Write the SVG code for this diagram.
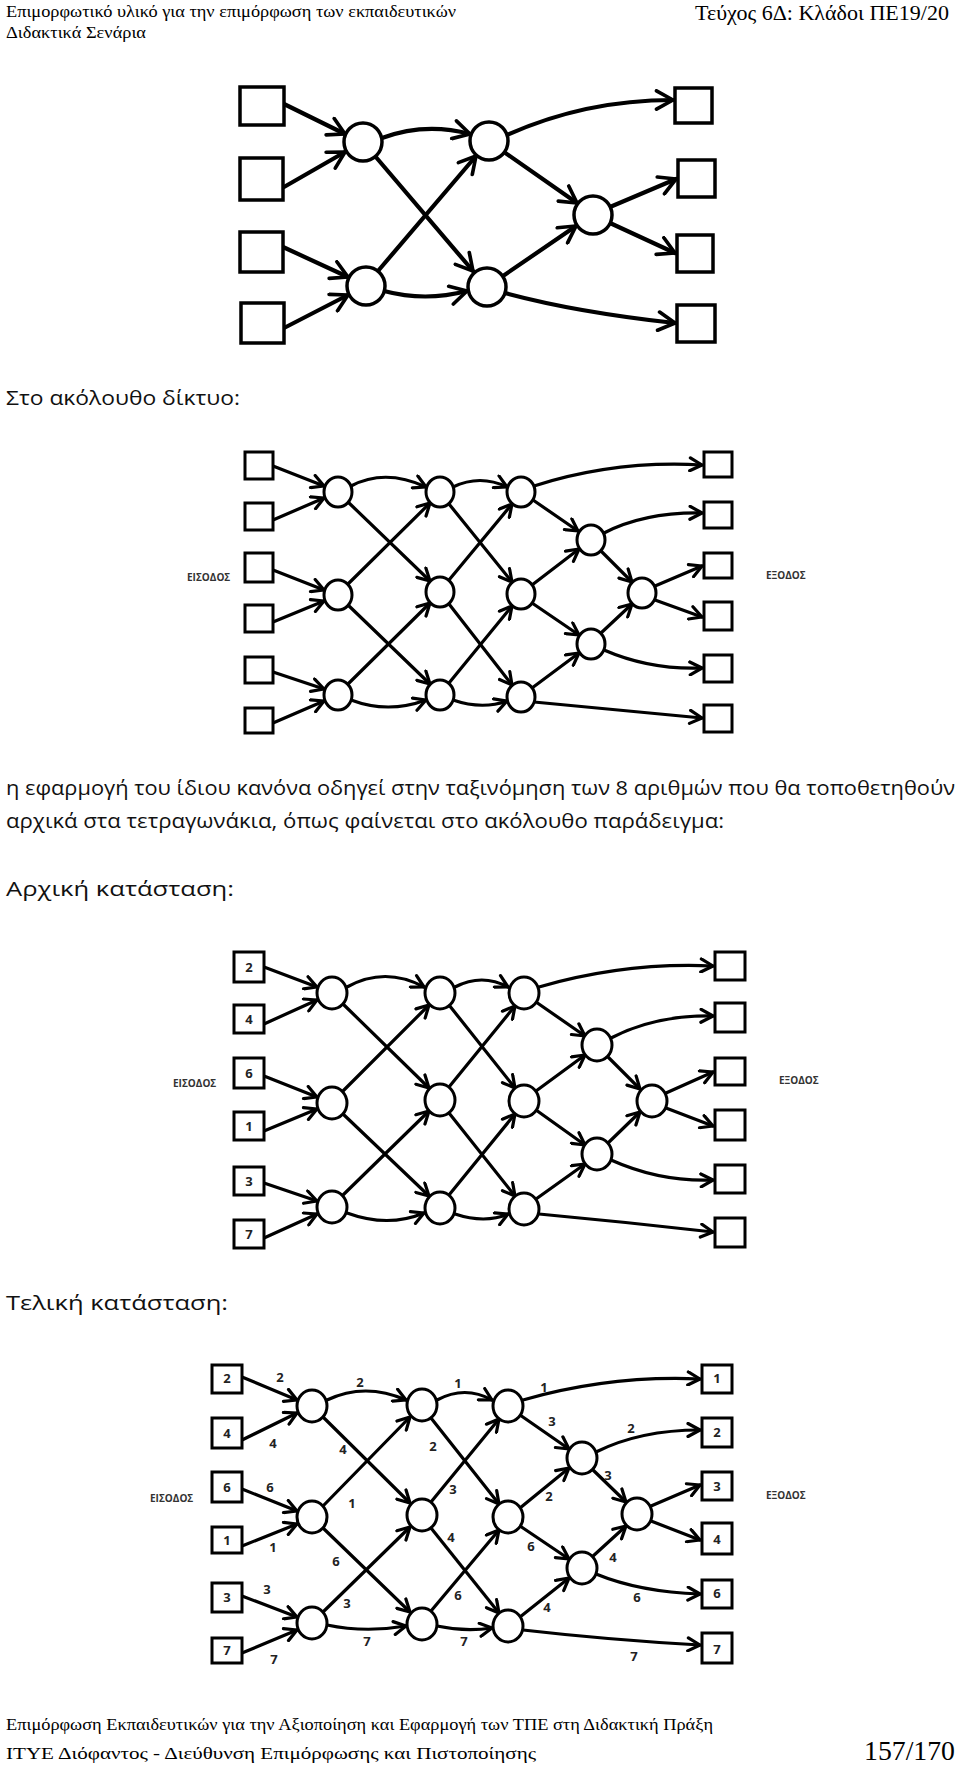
<svg xmlns="http://www.w3.org/2000/svg" width="960" height="1766" viewBox="0 0 960 1766">
<defs>
<style>
.hdr{font-family:"Liberation Serif","Times New Roman",serif;fill:#000}
.body{font-family:"Open Sans","Liberation Sans",sans-serif;font-size:20px;fill:#111}
.lbl{font-family:"Open Sans","Liberation Sans",sans-serif;font-size:10px;font-weight:bold;fill:#333}
.num{font-family:"Open Sans","Liberation Sans",sans-serif;font-size:13px;font-weight:bold;fill:#222;text-anchor:middle}
.sq{fill:#fff;stroke:#000;stroke-width:3}
.sq1{fill:#fff;stroke:#000;stroke-width:3.5}
.nd{fill:#fff;stroke:#000;stroke-width:3}
.nd1{fill:#fff;stroke:#000;stroke-width:3.5}
.e{fill:none;stroke:#000;stroke-width:3.2;stroke-linecap:round;marker-end:url(#ah)}
.e1{fill:none;stroke:#000;stroke-width:4.2;stroke-linecap:round;marker-end:url(#ah1)}
</style>
<marker id="ah" viewBox="0 0 16 16" markerWidth="16" markerHeight="16" refX="14" refY="8" orient="auto" markerUnits="userSpaceOnUse">
<path d="M2,1.5 L14,8 L2,14.5" fill="none" stroke="#000" stroke-width="3.2" stroke-linecap="round" stroke-linejoin="round"/>
</marker>
<marker id="ah1" viewBox="0 0 24 24" markerWidth="22" markerHeight="22" refX="21" refY="12" orient="auto" markerUnits="userSpaceOnUse">
<path d="M3,2 L21,12 L3,22" fill="none" stroke="#000" stroke-width="4" stroke-linecap="round" stroke-linejoin="round"/>
</marker>
</defs>
<rect x="0" y="0" width="960" height="1766" fill="#fff"/>

<!-- header -->
<text class="hdr" x="6" y="17" font-size="17" textLength="450" lengthAdjust="spacingAndGlyphs">Επιμορφωτικό υλικό για την επιμόρφωση των εκπαιδευτικών</text>
<text class="hdr" x="6" y="38" font-size="17" textLength="140" lengthAdjust="spacingAndGlyphs">Διδακτικά Σενάρια</text>
<text class="hdr" x="695" y="20" font-size="21" textLength="254" lengthAdjust="spacingAndGlyphs">Τεύχος 6Δ: Κλάδοι ΠΕ19/20</text>

<!-- FIGURE 1 -->
<g id="fig1-edges">
<path class="e1" d="M284,104 L345,134"/>
<path class="e1" d="M284,187 L345,152"/>
<path class="e1" d="M283,247 L348,277"/>
<path class="e1" d="M284,328 L348,295"/>
<path class="e1" d="M382,138 Q425,122 470,134"/>
<path class="e1" d="M375,156 L473,271"/>
<path class="e1" d="M378,271 L476,156"/>
<path class="e1" d="M384,291 Q425,302 467,291"/>
<path class="e1" d="M507,135 Q585,100 673,100"/>
<path class="e1" d="M504,152 L577,203"/>
<path class="e1" d="M503,276 L576,226"/>
<path class="e1" d="M505,293 Q575,312 675,323"/>
<path class="e1" d="M610,207 L676,179"/>
<path class="e1" d="M610,223 L675,253"/>
</g>
<g id="f1-in1"><rect class="sq1" x="240" y="87" width="44" height="38"/></g>
<g id="f1-in2"><rect class="sq1" x="240" y="158" width="43" height="42"/></g>
<g id="f1-in3"><rect class="sq1" x="240" y="232" width="43" height="40"/></g>
<g id="f1-in4"><rect class="sq1" x="241" y="303" width="43" height="40"/></g>
<g id="f1-n1"><circle class="nd1" cx="363" cy="142" r="19"/></g>
<g id="f1-n2"><circle class="nd1" cx="366" cy="286" r="19"/></g>
<g id="f1-n3"><circle class="nd1" cx="489" cy="141" r="19"/></g>
<g id="f1-n4"><circle class="nd1" cx="487" cy="287" r="19"/></g>
<g id="f1-n5"><circle class="nd1" cx="593" cy="215" r="19"/></g>
<g id="f1-out1"><rect class="sq1" x="675" y="88" width="37" height="35"/></g>
<g id="f1-out2"><rect class="sq1" x="678" y="160" width="37" height="37"/></g>
<g id="f1-out3"><rect class="sq1" x="677" y="235" width="36" height="37"/></g>
<g id="f1-out4"><rect class="sq1" x="677" y="305" width="38" height="37"/></g>

<text class="body" x="6" y="405" textLength="234" lengthAdjust="spacingAndGlyphs">Στο ακόλουθο δίκτυο:</text>

<!-- FIGURE 2 -->
<g id="fig2-edges">
<path class="e" d="M273,466 L324,486"/>
<path class="e" d="M273,520 L324,498"/>
<path class="e" d="M273,570 L324,590"/>
<path class="e" d="M273,622 L324,601"/>
<path class="e" d="M273,672 L324,689"/>
<path class="e" d="M273,723 L324,701"/>
<path class="e" d="M351,486 Q385,468 426,487"/>
<path class="e" d="M348,502 L430,581"/>
<path class="e" d="M348,584 L430,503"/>
<path class="e" d="M348,605 L430,684"/>
<path class="e" d="M348,684 L430,603"/>
<path class="e" d="M351,700 Q388,714 426,700"/>
<path class="e" d="M453,487 Q480,474 507,487"/>
<path class="e" d="M449,504 L512,582"/>
<path class="e" d="M449,580 L512,504"/>
<path class="e" d="M449,604 L512,685"/>
<path class="e" d="M449,683 L512,606"/>
<path class="e" d="M453,700 Q482,710 507,701"/>
<path class="e" d="M534,486 Q615,460 702,465"/>
<path class="e" d="M533,500 L578,531"/>
<path class="e" d="M532,585 L579,549"/>
<path class="e" d="M532,603 L579,635"/>
<path class="e" d="M532,688 L579,653"/>
<path class="e" d="M534,702 Q615,710 702,718"/>
<path class="e" d="M604,533 Q645,512 702,513"/>
<path class="e" d="M601,551 L632,582"/>
<path class="e" d="M601,633 L632,604"/>
<path class="e" d="M604,650 Q650,670 702,668"/>
<path class="e" d="M655,586 L702,566"/>
<path class="e" d="M655,600 L702,617"/>
</g>
<g id="f2-in1"><rect class="sq" x="245" y="452" width="28" height="27"/></g>
<g id="f2-in2"><rect class="sq" x="245" y="503" width="28" height="27"/></g>
<g id="f2-in3"><rect class="sq" x="245" y="553" width="28" height="29"/></g>
<g id="f2-in4"><rect class="sq" x="245" y="605" width="28" height="27"/></g>
<g id="f2-in5"><rect class="sq" x="245" y="657" width="28" height="26"/></g>
<g id="f2-in6"><rect class="sq" x="245" y="708" width="28" height="25"/></g>
<g id="f2-a1"><ellipse class="nd" cx="338" cy="492" rx="14" ry="15"/></g>
<g id="f2-a2"><ellipse class="nd" cx="338" cy="595" rx="14" ry="15"/></g>
<g id="f2-a3"><ellipse class="nd" cx="338" cy="695" rx="14" ry="15"/></g>
<g id="f2-b1"><ellipse class="nd" cx="440" cy="492" rx="14" ry="15"/></g>
<g id="f2-b2"><ellipse class="nd" cx="440" cy="592" rx="14" ry="15"/></g>
<g id="f2-b3"><ellipse class="nd" cx="440" cy="695" rx="14" ry="15"/></g>
<g id="f2-c1"><ellipse class="nd" cx="521" cy="492" rx="14" ry="15"/></g>
<g id="f2-c2"><ellipse class="nd" cx="521" cy="594" rx="14" ry="15"/></g>
<g id="f2-c3"><ellipse class="nd" cx="521" cy="697" rx="14" ry="15"/></g>
<g id="f2-d1"><ellipse class="nd" cx="591" cy="540" rx="14" ry="15"/></g>
<g id="f2-d2"><ellipse class="nd" cx="591" cy="644" rx="14" ry="15"/></g>
<g id="f2-e1"><ellipse class="nd" cx="642" cy="593" rx="14" ry="15"/></g>
<g id="f2-out1"><rect class="sq" x="704" y="452" width="28" height="25"/></g>
<g id="f2-out2"><rect class="sq" x="704" y="502" width="28" height="26"/></g>
<g id="f2-out3"><rect class="sq" x="704" y="553" width="28" height="25"/></g>
<g id="f2-out4"><rect class="sq" x="704" y="602" width="28" height="28"/></g>
<g id="f2-out5"><rect class="sq" x="704" y="655" width="28" height="27"/></g>
<g id="f2-out6"><rect class="sq" x="704" y="705" width="28" height="27"/></g>
<text class="lbl" x="187" y="581">ΕΙΣΟΔΟΣ</text>
<text class="lbl" x="766" y="579">ΕΞΟΔΟΣ</text>

<text class="body" x="6" y="795" textLength="949" lengthAdjust="spacingAndGlyphs">η εφαρμογή του ίδιου κανόνα οδηγεί στην ταξινόμηση των 8 αριθμών που θα τοποθετηθούν</text>
<text class="body" x="6" y="828" textLength="718" lengthAdjust="spacingAndGlyphs">αρχικά στα τετραγωνάκια, όπως φαίνεται στο ακόλουθο παράδειγμα:</text>
<text class="body" x="6" y="896" textLength="228" lengthAdjust="spacingAndGlyphs">Αρχική κατάσταση:</text>

<!-- FIGURE 3 -->
<g id="fig3-edges">
<path class="e" d="M264,967 L317,987"/>
<path class="e" d="M264,1024 L317,1000"/>
<path class="e" d="M264,1076 L317,1097"/>
<path class="e" d="M264,1131 L317,1109"/>
<path class="e" d="M264,1183 L317,1201"/>
<path class="e" d="M264,1238 L317,1214"/>
<path class="e" d="M347,987 Q385,966 424,987"/>
<path class="e" d="M343,1004 L429,1088"/>
<path class="e" d="M343,1091 L429,1005"/>
<path class="e" d="M343,1114 L429,1196"/>
<path class="e" d="M343,1195 L429,1111"/>
<path class="e" d="M347,1213 Q388,1228 424,1213"/>
<path class="e" d="M455,987 Q482,973 508,987"/>
<path class="e" d="M449,1005 L515,1088"/>
<path class="e" d="M449,1087 L515,1006"/>
<path class="e" d="M449,1113 L515,1196"/>
<path class="e" d="M449,1195 L515,1114"/>
<path class="e" d="M455,1214 Q485,1224 508,1214"/>
<path class="e" d="M539,987 Q625,962 713,966"/>
<path class="e" d="M536,1002 L585,1036"/>
<path class="e" d="M536,1091 L585,1055"/>
<path class="e" d="M536,1110 L585,1145"/>
<path class="e" d="M536,1199 L585,1164"/>
<path class="e" d="M539,1214 Q625,1222 713,1232"/>
<path class="e" d="M611,1038 Q655,1015 713,1016"/>
<path class="e" d="M607,1056 L640,1089"/>
<path class="e" d="M608,1143 L640,1112"/>
<path class="e" d="M611,1160 Q660,1182 713,1180"/>
<path class="e" d="M666,1093 L713,1072"/>
<path class="e" d="M666,1108 L713,1126"/>
</g>
<g id="f3-in1"><rect class="sq" x="234" y="952" width="30" height="30"/><text class="num" x="249" y="972">2</text></g>
<g id="f3-in2"><rect class="sq" x="234" y="1005" width="30" height="28"/><text class="num" x="249" y="1024">4</text></g>
<g id="f3-in3"><rect class="sq" x="234" y="1058" width="30" height="30"/><text class="num" x="249" y="1078">6</text></g>
<g id="f3-in4"><rect class="sq" x="234" y="1112" width="30" height="28"/><text class="num" x="249" y="1131">1</text></g>
<g id="f3-in5"><rect class="sq" x="234" y="1167" width="30" height="28"/><text class="num" x="249" y="1186">3</text></g>
<g id="f3-in6"><rect class="sq" x="234" y="1220" width="30" height="28"/><text class="num" x="249" y="1239">7</text></g>
<g id="f3-a1"><ellipse class="nd" cx="332" cy="993" rx="15" ry="16"/></g>
<g id="f3-a2"><ellipse class="nd" cx="332" cy="1103" rx="15" ry="16"/></g>
<g id="f3-a3"><ellipse class="nd" cx="332" cy="1207" rx="15" ry="16"/></g>
<g id="f3-b1"><ellipse class="nd" cx="440" cy="993" rx="15" ry="16"/></g>
<g id="f3-b2"><ellipse class="nd" cx="440" cy="1100" rx="15" ry="16"/></g>
<g id="f3-b3"><ellipse class="nd" cx="440" cy="1208" rx="15" ry="16"/></g>
<g id="f3-c1"><ellipse class="nd" cx="524" cy="993" rx="15" ry="16"/></g>
<g id="f3-c2"><ellipse class="nd" cx="524" cy="1101" rx="15" ry="16"/></g>
<g id="f3-c3"><ellipse class="nd" cx="524" cy="1209" rx="15" ry="16"/></g>
<g id="f3-d1"><ellipse class="nd" cx="597" cy="1045" rx="15" ry="16"/></g>
<g id="f3-d2"><ellipse class="nd" cx="597" cy="1154" rx="15" ry="16"/></g>
<g id="f3-e1"><ellipse class="nd" cx="652" cy="1101" rx="15" ry="16"/></g>
<g id="f3-out1"><rect class="sq" x="715" y="952" width="30" height="28"/></g>
<g id="f3-out2"><rect class="sq" x="715" y="1003" width="30" height="29"/></g>
<g id="f3-out3"><rect class="sq" x="715" y="1058" width="30" height="27"/></g>
<g id="f3-out4"><rect class="sq" x="715" y="1110" width="30" height="30"/></g>
<g id="f3-out5"><rect class="sq" x="715" y="1165" width="30" height="28"/></g>
<g id="f3-out6"><rect class="sq" x="715" y="1218" width="30" height="29"/></g>
<text class="lbl" x="173" y="1087">ΕΙΣΟΔΟΣ</text>
<text class="lbl" x="779" y="1084">ΕΞΟΔΟΣ</text>

<text class="body" x="6" y="1310" textLength="222" lengthAdjust="spacingAndGlyphs">Τελική κατάσταση:</text>

<!-- FIGURE 4 -->
<g id="fig4-edges">
<path class="e" d="M242,1377 L297,1400"/>
<path class="e" d="M242,1440 L297,1413"/>
<path class="e" d="M242,1489 L297,1511"/>
<path class="e" d="M242,1546 L297,1524"/>
<path class="e" d="M242,1596 L297,1617"/>
<path class="e" d="M242,1653 L297,1630"/>
<path class="e" d="M327,1400 Q365,1382 406,1400"/>
<path class="e" d="M323,1417 L410,1503"/>
<path class="e" d="M323,1506 L410,1417"/>
<path class="e" d="M323,1528 L410,1612"/>
<path class="e" d="M323,1612 L410,1527"/>
<path class="e" d="M327,1625 Q365,1633 406,1626"/>
<path class="e" d="M437,1400 Q465,1385 492,1400"/>
<path class="e" d="M431,1418 L499,1504"/>
<path class="e" d="M431,1502 L499,1419"/>
<path class="e" d="M431,1528 L499,1613"/>
<path class="e" d="M431,1611 L499,1530"/>
<path class="e" d="M437,1626 Q465,1632 492,1628"/>
<path class="e" d="M523,1400 Q610,1375 700,1379"/>
<path class="e" d="M520,1415 L569,1449"/>
<path class="e" d="M520,1508 L569,1468"/>
<path class="e" d="M520,1526 L569,1559"/>
<path class="e" d="M520,1617 L569,1578"/>
<path class="e" d="M523,1630 Q610,1640 700,1645"/>
<path class="e" d="M596,1452 Q640,1430 700,1430"/>
<path class="e" d="M592,1469 L626,1502"/>
<path class="e" d="M592,1557 L626,1526"/>
<path class="e" d="M596,1574 Q640,1592 700,1594"/>
<path class="e" d="M651,1506 L700,1485"/>
<path class="e" d="M651,1521 L700,1540"/>
</g>
<g id="fig4-edge-labels" class="num">
<text x="280" y="1382">2</text>
<text x="273" y="1448">4</text>
<text x="270" y="1492">6</text>
<text x="273" y="1552">1</text>
<text x="267" y="1594">3</text>
<text x="274" y="1664">7</text>
<text x="360" y="1387">2</text>
<text x="343" y="1454">4</text>
<text x="352" y="1508">1</text>
<text x="336" y="1566">6</text>
<text x="347" y="1608">3</text>
<text x="367" y="1646">7</text>
<text x="458" y="1388">1</text>
<text x="433" y="1451">2</text>
<text x="453" y="1494">3</text>
<text x="451" y="1542">4</text>
<text x="458" y="1600">6</text>
<text x="464" y="1646">7</text>
<text x="544" y="1392">1</text>
<text x="552" y="1426">3</text>
<text x="631" y="1433">2</text>
<text x="608" y="1480">3</text>
<text x="549" y="1501">2</text>
<text x="531" y="1551">6</text>
<text x="613" y="1562">4</text>
<text x="637" y="1602">6</text>
<text x="547" y="1612">4</text>
<text x="634" y="1661">7</text>
</g>
<g id="f4-in1"><rect class="sq" x="212" y="1365" width="30" height="28"/><text class="num" x="227" y="1383">2</text></g>
<g id="f4-in2"><rect class="sq" x="212" y="1418" width="30" height="30"/><text class="num" x="227" y="1438">4</text></g>
<g id="f4-in3"><rect class="sq" x="212" y="1472" width="30" height="30"/><text class="num" x="227" y="1492">6</text></g>
<g id="f4-in4"><rect class="sq" x="212" y="1527" width="30" height="26"/><text class="num" x="227" y="1545">1</text></g>
<g id="f4-in5"><rect class="sq" x="212" y="1583" width="30" height="29"/><text class="num" x="227" y="1602">3</text></g>
<g id="f4-in6"><rect class="sq" x="212" y="1638" width="30" height="25"/><text class="num" x="227" y="1655">7</text></g>
<g id="f4-a1"><ellipse class="nd" cx="312" cy="1406" rx="15" ry="16"/></g>
<g id="f4-a2"><ellipse class="nd" cx="312" cy="1517" rx="15" ry="16"/></g>
<g id="f4-a3"><ellipse class="nd" cx="312" cy="1623" rx="15" ry="16"/></g>
<g id="f4-b1"><ellipse class="nd" cx="422" cy="1405" rx="15" ry="16"/></g>
<g id="f4-b2"><ellipse class="nd" cx="422" cy="1515" rx="15" ry="16"/></g>
<g id="f4-b3"><ellipse class="nd" cx="422" cy="1624" rx="15" ry="16"/></g>
<g id="f4-c1"><ellipse class="nd" cx="508" cy="1406" rx="15" ry="16"/></g>
<g id="f4-c2"><ellipse class="nd" cx="508" cy="1517" rx="15" ry="16"/></g>
<g id="f4-c3"><ellipse class="nd" cx="508" cy="1626" rx="15" ry="16"/></g>
<g id="f4-d1"><ellipse class="nd" cx="582" cy="1458" rx="15" ry="16"/></g>
<g id="f4-d2"><ellipse class="nd" cx="582" cy="1568" rx="15" ry="16"/></g>
<g id="f4-e1"><ellipse class="nd" cx="637" cy="1514" rx="15" ry="16"/></g>
<g id="f4-out1"><rect class="sq" x="702" y="1365" width="30" height="28"/><text class="num" x="717" y="1383">1</text></g>
<g id="f4-out2"><rect class="sq" x="702" y="1418" width="30" height="29"/><text class="num" x="717" y="1437">2</text></g>
<g id="f4-out3"><rect class="sq" x="702" y="1472" width="30" height="28"/><text class="num" x="717" y="1491">3</text></g>
<g id="f4-out4"><rect class="sq" x="702" y="1523" width="30" height="31"/><text class="num" x="717" y="1544">4</text></g>
<g id="f4-out5"><rect class="sq" x="702" y="1580" width="30" height="28"/><text class="num" x="717" y="1598">6</text></g>
<g id="f4-out6"><rect class="sq" x="702" y="1633" width="30" height="30"/><text class="num" x="717" y="1654">7</text></g>
<text class="lbl" x="150" y="1502">ΕΙΣΟΔΟΣ</text>
<text class="lbl" x="766" y="1499">ΕΞΟΔΟΣ</text>

<!-- footer -->
<text class="hdr" x="6" y="1730" font-size="17" textLength="707" lengthAdjust="spacingAndGlyphs">Επιμόρφωση Εκπαιδευτικών για την Αξιοποίηση και Εφαρμογή των ΤΠΕ στη Διδακτική Πράξη</text>
<text class="hdr" x="6" y="1759" font-size="17" textLength="530" lengthAdjust="spacingAndGlyphs">ΙΤΥΕ Διόφαντος - Διεύθυνση Επιμόρφωσης και Πιστοποίησης</text>
<text class="hdr" x="864" y="1760" font-size="28" textLength="91" lengthAdjust="spacingAndGlyphs">157/170</text>
</svg>
